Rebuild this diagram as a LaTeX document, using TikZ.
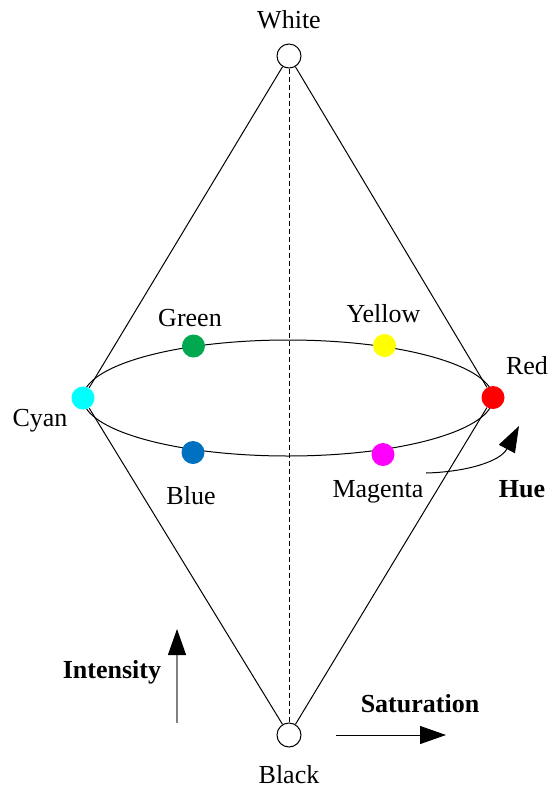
\documentclass[tikz,border=0pt]{standalone}
\usepackage{fontspec}
\setmainfont{Liberation Serif}
\usetikzlibrary{arrows.meta}
\definecolor{cGreen}{RGB}{0,168,80}
\definecolor{cBlue}{RGB}{0,112,192}
\definecolor{cCyan}{RGB}{0,255,255}
\definecolor{cYellow}{RGB}{255,255,0}
\definecolor{cMagenta}{RGB}{255,0,255}
\definecolor{cRed}{RGB}{255,0,0}
\tikzset{
  dot/.style={circle, inner sep=0pt, minimum size=11.5pt, fill=#1, draw=none},
  pole/.style={circle, inner sep=0pt, minimum size=12pt, fill=white, draw=black, line width=0.5pt},
  lbl/.style={inner sep=0pt, font=\fontsize{13}{15}\selectfont},
  blbl/.style={inner sep=0pt, font=\fontsize{13}{15}\selectfont\bfseries},
  edge/.style={line width=0.5pt, draw=black},
  bigtip/.style={-{Triangle[length=13pt,width=9pt,color=black]}}
}
\begin{document}
\begin{tikzpicture}[x=0.5pt,y=-0.5pt]
\useasboundingbox (0,0) rectangle (552,794);
% hue circle
\draw[edge] (288,398) ellipse [x radius=205, y radius=58];
% poles
\node[pole] (white) at (289,56) {};
\node[pole] (black) at (289,735) {};
% colour dots
\node[dot=cCyan] (cyan) at (83,398) {};
\node[dot=cRed] (red) at (493,397.5) {};
\node[dot=cGreen] (green) at (193.5,346) {};
\node[dot=cYellow] (yellow) at (384.5,345.5) {};
\node[dot=cBlue] (blue) at (193,452.5) {};
\node[dot=cMagenta] (magenta) at (383,454.5) {};
% cone edges
\draw[edge] (cyan) -- (white);
\draw[edge] (red) -- (white);
\draw[edge] (cyan) -- (black);
\draw[edge] (red) -- (black);
\draw[edge, dash pattern=on 2.5pt off 1.5pt] (white) -- (black);
% labels
\node[lbl] (tWhite) at (289,20) {White};
\node[lbl] (tBlack) at (289,775) {Black};
\node[lbl] (tGreen) at (190,318) {Green};
\node[lbl] (tYellow) at (383.5,314) {Yellow};
\node[lbl] (tRed) at (527,366) {Red};
\node[lbl] (tCyan) at (40,421) {Cyan};
\node[lbl] (tBlue) at (191,496) {Blue};
\node[lbl] (tMagenta) at (378,492) {Magenta};
\node[blbl] (tHue) at (522,489) {Hue};
\node[blbl] (tInt) at (112,672) {Intensity};
\node[blbl] (tSat) at (420,704) {Saturation};
% arrows
\coordinate (intS) at (177,723);
\coordinate (intE) at (177,629);
\draw[line width=0.6pt, draw={rgb,255:red,128;green,128;blue,128}, bigtip] (intS) -- (intE);
\coordinate (satS) at (336,735);
\coordinate (satE) at (446,735);
\draw[line width=0.5pt, bigtip] (satS) -- (satE);
\coordinate (hueS) at (426,473);
\coordinate (hueE) at (519,426);
\draw[line width=0.5pt, bigtip] (hueS) .. controls (465,472) and (500,462) .. (hueE);
\end{tikzpicture}
\end{document}
